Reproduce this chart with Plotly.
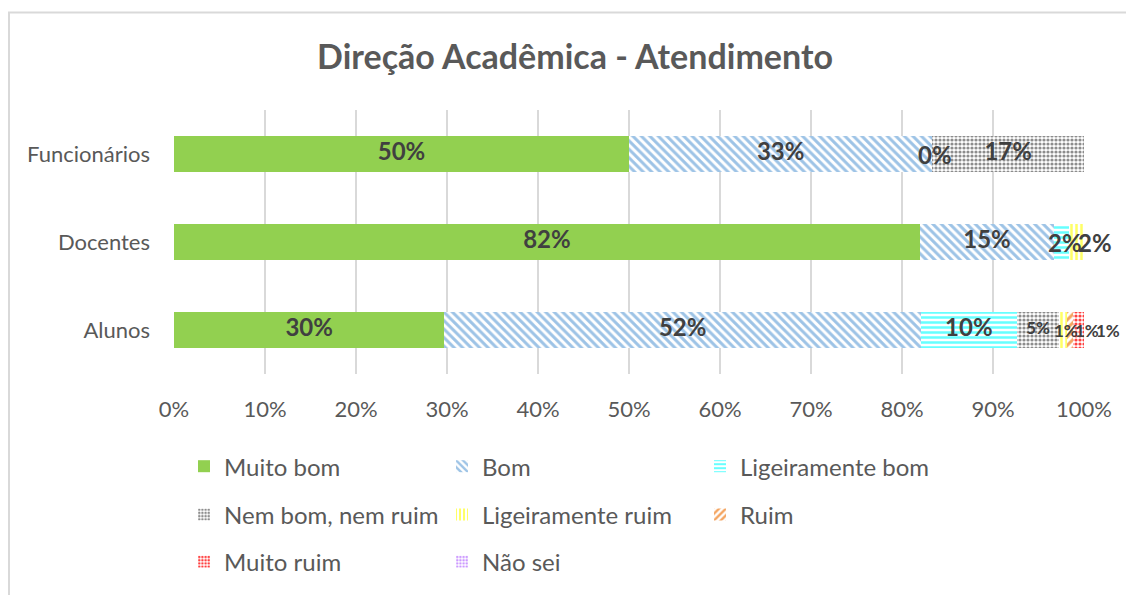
import plotly.graph_objects as go

# dados (percentuais)
categorias = ["Alunos", "Docentes", "Funcionários"]
respostas = ["Muito bom", "Bom", "Ligeiramente bom", "Nem bom, nem ruim",
             "Ligeiramente ruim", "Ruim", "Muito ruim", "Não sei"]

muito_bom = [29.7, 81.97, 50.0]
bom = [52.4, 14.75, 33.33]
lig_bom = [10.5, 1.64, 0.0]
nem_bom = [4.7, None, 16.67]
lig_ruim = [0.8, 1.64, None]
ruim = [0.7, None, None]
muito_ruim = [1.2, None, None]
nao_sei = [None, None, None]

ticks = [0, 10, 20, 30, 40, 50, 60, 70, 80, 90, 100]

series = [muito_bom, bom, lig_bom, nem_bom, lig_ruim, ruim, muito_ruim, nao_sei]

estilos = [
    dict(shape="", fg="#92D050", size=6),
    dict(shape="\\", fg="#9DC3E6", size=6),
    dict(shape="-", fg="#66FFFF", size=5),
    dict(shape=".", fg="#8C8C8C", size=4),
    dict(shape="|", fg="#FFFF66", size=5),
    dict(shape="/", fg="#F4A460", size=6),
    dict(shape=".", fg="#FF4040", size=4),
    dict(shape=".", fg="#CC99FF", size=4),
]
# linha da legenda onde cada serie aparece
legenda_de = ["legend", "legend", "legend", "legend2", "legend2", "legend2",
              "legend3", "legend3"]

PX_POR_PCT = 910 / 100  # largura da area do grafico / faixa do eixo

fig = go.Figure()

for nome, vals, est, leg in zip(respostas, series, estilos, legenda_de):
    xs = [v if v is not None else 0 for v in vals]
    if est["shape"] == "":
        marker = dict(color=est["fg"], line=dict(width=0))
    else:
        marker = dict(color=est["fg"], line=dict(width=0),
                      pattern=dict(shape=est["shape"], fgcolor=est["fg"],
                                   bgcolor="white", size=est["size"],
                                   solidity=0.5, fillmode="replace"))
    fig.add_trace(go.Bar(
        y=categorias, x=xs, name=nome, orientation="h", legend=leg,
        marker=marker, hoverinfo="skip"))

# rotulos de dados no centro de cada segmento
lx, ly, lt, ls = [], [], [], []
anotacoes = []
for i, cat in enumerate(categorias):
    acum = 0
    pos_anterior = None
    for vals in series:
        v = vals[i]
        if v is None:
            continue
        centro = acum + v / 2
        texto = f"{round(v):.0f}%"
        tam = 17 if (cat == "Alunos" and v < 10) else 24
        if v < 2:
            # segmentos muito estreitos: rotulos lado a lado
            passo = 21 if tam < 20 else 30
            alvo = centro * PX_POR_PCT + 3
            if pos_anterior is not None:
                alvo = max(alvo, pos_anterior + passo)
            anotacoes.append(dict(x=centro, y=cat, xref="x", yref="y",
                                  text=f"<b>{texto}</b>", showarrow=False,
                                  xshift=alvo - centro * PX_POR_PCT,
                                  font=dict(family="Lato", size=tam,
                                            color="#404040")))
            pos_anterior = alvo
        else:
            lx.append(centro)
            ly.append(cat)
            lt.append(texto)
            ls.append(tam)
        acum += v

fig.add_trace(go.Scatter(
    x=lx, y=ly, text=lt, mode="text", showlegend=False, hoverinfo="skip",
    textfont=dict(family="Lato", size=ls, color="#404040", weight="bold"),
    textposition="middle center", cliponaxis=False))

leg_base = dict(orientation="h", x=0.011, xanchor="left", yanchor="middle",
                entrywidth=213, entrywidthmode="pixels", traceorder="normal",
                font=dict(size=24, color="#595959", family="Lato"),
                itemwidth=30, bgcolor="rgba(0,0,0,0)")

fig.update_layout(
    barmode="stack",
    bargap=0.6,
    width=1126, height=589,
    margin=dict(l=166, r=50, t=102, b=219),
    paper_bgcolor="white", plot_bgcolor="white",
    font=dict(family="Lato", color="#595959", size=20),
    title=dict(text="<b>Direção Acadêmica - Atendimento</b>",
               x=0.5036, xanchor="center", y=0.917, yanchor="middle",
               font=dict(size=34, color="#595959", family="Lato")),
    xaxis=dict(range=[0, 100], tickvals=ticks,
               ticktext=[f"{t}%" for t in ticks],
               showgrid=True, gridcolor="#D9D9D9", gridwidth=1.5,
               zeroline=False, showline=False, ticks="", ticklabelstandoff=20,
               tickfont=dict(size=22, color="#595959")),
    yaxis=dict(showgrid=False, zeroline=False, showline=False, ticks="",
               ticklabelstandoff=23, tickfont=dict(size=22, color="#595959")),
    legend=dict(leg_base, y=-94 / 268),
    legend2=dict(leg_base, y=-143 / 268),
    legend3=dict(leg_base, y=-191 / 268),
    annotations=anotacoes,
    shapes=[
        dict(type="line", xref="paper", yref="paper",
             x0=(0 - 166) / 910, x1=(1126 - 166) / 910 + 0.02,
             y0=(370 - 3) / 268, y1=(370 - 3) / 268,
             line=dict(color="#D9D9D9", width=2)),
        dict(type="line", xref="paper", yref="paper",
             x0=(1 - 166) / 910, x1=(1 - 166) / 910,
             y0=(370 - 3) / 268, y1=-219 / 268 - 0.02,
             line=dict(color="#D9D9D9", width=2)),
    ],
)

fig.write_html("out.html")
